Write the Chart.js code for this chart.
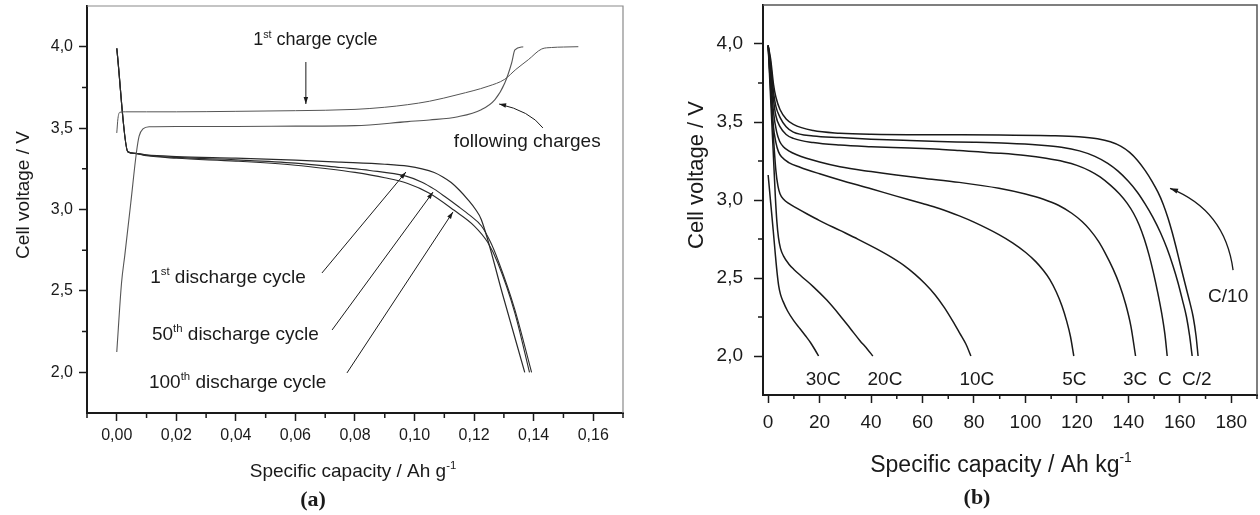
<!DOCTYPE html>
<html><head><meta charset="utf-8">
<script src="https://cdn.jsdelivr.net/npm/chart.js@4.4.1/dist/chart.umd.min.js"></script>
<style>
html,body{margin:0;padding:0;background:#fff;}
#wrap{position:relative;width:1260px;height:515px;overflow:hidden;background:#fff;}
canvas{position:absolute;top:0;}
#ca{left:0;} #cb{left:630px;}
</style></head><body>
<div id="wrap"><canvas id="ca" width="630" height="515"></canvas><canvas id="cb" width="630" height="515"></canvas></div>
<script>
// ================= Panel (a) data =================
const aXTicks = [0, 0.02, 0.04, 0.06, 0.08, 0.10, 0.12, 0.14, 0.16];
const aXTickLabels = ['0,00', '0,02', '0,04', '0,06', '0,08', '0,10', '0,12', '0,14', '0,16'];
const aXMinor = [-0.01, 0.01, 0.03, 0.05, 0.07, 0.09, 0.11, 0.13, 0.15, 0.17];
const aYTicks = [2.0, 2.5, 3.0, 3.5, 4.0];
const aYTickLabels = ['2,0', '2,5', '3,0', '3,5', '4,0'];
const aYMinor = [2.25, 2.75, 3.25, 3.75];

const charge1Cap = [0, 0.0004, 0.001, 0.003, 0.01, 0.02, 0.04, 0.06, 0.08, 0.09, 0.0977, 0.105, 0.1146, 0.1247, 0.1303, 0.134, 0.1382, 0.1427, 0.146, 0.150, 0.155];
const charge1V   = [3.47, 3.56, 3.597, 3.60, 3.60, 3.60, 3.603, 3.607, 3.615, 3.628, 3.644, 3.665, 3.706, 3.757, 3.80, 3.86, 3.92, 3.986, 3.995, 3.998, 4.0];

const chargeNCap = [0, 0.0016, 0.0027, 0.0047, 0.0066, 0.0075, 0.0088, 0.011, 0.02, 0.04, 0.06, 0.08, 0.0977, 0.105, 0.1146, 0.1224, 0.127, 0.1303, 0.1326, 0.1337, 0.1365];
const chargeNV   = [2.125, 2.55, 2.72, 3.04, 3.35, 3.45, 3.495, 3.508, 3.51, 3.51, 3.512, 3.515, 3.54, 3.55, 3.57, 3.613, 3.675, 3.777, 3.90, 3.98, 4.0];

const dis1Cap = [0, 0.0037, 0.006, 0.01, 0.02, 0.04, 0.06, 0.0752, 0.09, 0.0977, 0.1025, 0.1066, 0.1095, 0.1123, 0.115, 0.1179, 0.1205, 0.1224, 0.1297, 0.137];
const dis1V   = [3.99, 3.355, 3.345, 3.335, 3.325, 3.315, 3.303, 3.291, 3.278, 3.266, 3.25, 3.227, 3.20, 3.166, 3.12, 3.061, 3.0, 2.939, 2.47, 2.0];

const dis50Cap = [0, 0.0037, 0.006, 0.01, 0.02, 0.04, 0.06, 0.0752, 0.085, 0.0971, 0.1025, 0.1066, 0.1105, 0.1146, 0.1185, 0.1224, 0.1255, 0.128, 0.1336, 0.1393];
const dis50V   = [3.99, 3.355, 3.345, 3.333, 3.32, 3.305, 3.285, 3.258, 3.24, 3.205, 3.168, 3.125, 3.075, 3.02, 2.965, 2.90, 2.80, 2.69, 2.39, 2.0];

const dis100Cap = [0, 0.0037, 0.006, 0.01, 0.02, 0.04, 0.06, 0.07, 0.08, 0.09, 0.0977, 0.105, 0.1133, 0.12, 0.1245, 0.128, 0.1336, 0.1386];
const dis100V   = [3.99, 3.355, 3.345, 3.33, 3.315, 3.297, 3.272, 3.252, 3.228, 3.195, 3.16, 3.10, 2.995, 2.90, 2.80, 2.67, 2.37, 2.0];

// ================= Panel (b) data =================
const bXTicks = [0, 20, 40, 60, 80, 100, 120, 140, 160, 180];
const bXTickLabels = ['0', '20', '40', '60', '80', '100', '120', '140', '160', '180'];
const bXMinor = [10, 30, 50, 70, 90, 110, 130, 150, 170, 190];
const bYTicks = [2.0, 2.5, 3.0, 3.5, 4.0];
const bYTickLabels = ['2,0', '2,5', '3,0', '3,5', '4,0'];
const bYMinor = [2.25, 2.75, 3.25, 3.75];
const rateNames = ['30C', '20C', '10C', '5C', '3C', 'C', 'C/2', 'C/10'];

const r30Cap = [0, 1, 2, 2.8, 3.5, 4.1, 4.8, 5.8, 7.5, 10, 12.4, 14.5, 16.5, 18.2, 19.6];
const r30V   = [3.16, 2.98, 2.80, 2.65, 2.53, 2.45, 2.395, 2.35, 2.29, 2.225, 2.175, 2.13, 2.085, 2.04, 2.0];

const r20Cap = [0, 1, 2, 2.8, 3.4, 4, 4.8, 6, 8, 10, 13, 17.5, 22.7, 27.9, 32, 35.6, 38.5, 40.7];
const r20V   = [3.99, 3.64, 3.30, 3.02, 2.86, 2.76, 2.69, 2.64, 2.59, 2.555, 2.51, 2.445, 2.36, 2.26, 2.175, 2.10, 2.045, 2.0];

const r10Cap = [0, 1, 2, 3, 3.8, 4.6, 6, 8, 11.1, 15, 20, 27.9, 35, 42, 48, 53, 57, 61, 65, 68.5, 71.7, 74.5, 76.9, 78.8];
const r10V   = [3.99, 3.70, 3.42, 3.19, 3.09, 3.04, 3.005, 2.978, 2.948, 2.912, 2.868, 2.805, 2.748, 2.688, 2.632, 2.578, 2.525, 2.463, 2.39, 2.31, 2.225, 2.145, 2.075, 2.0];

const r5Cap = [0, 1, 2, 3, 4, 5.3, 8, 12.4, 20, 27.9, 40, 49.8, 60, 66.5, 74.3, 80, 89.7, 95, 100, 104, 107, 109.5, 112, 114.2, 116, 117.5, 118.8];
const r5V   = [3.99, 3.74, 3.48, 3.37, 3.31, 3.275, 3.24, 3.21, 3.168, 3.128, 3.072, 3.025, 2.978, 2.946, 2.898, 2.858, 2.778, 2.725, 2.665, 2.605, 2.548, 2.49, 2.41, 2.32, 2.225, 2.125, 2.0];

const r3Cap = [0, 1, 2.1, 3.4, 4.5, 5.9, 8, 11.1, 20, 27.9, 40, 49.8, 60, 74.3, 89.7, 100, 107, 113, 118, 122, 125, 128.4, 131, 134, 136.5, 139, 141, 142.8];
const r3V   = [3.99, 3.80, 3.56, 3.43, 3.375, 3.342, 3.315, 3.29, 3.243, 3.213, 3.182, 3.16, 3.14, 3.113, 3.075, 3.038, 3.005, 2.965, 2.915, 2.862, 2.81, 2.735, 2.66, 2.56, 2.46, 2.33, 2.19, 2.0];

const r1Cap = [0, 1, 2.1, 3, 4.6, 7, 9.8, 17.5, 27.9, 40, 55, 66.5, 74.3, 89.7, 100, 108, 115, 120, 125, 129, 133, 136.5, 139.5, 142, 144.2, 146.2, 148, 149.8, 151.5, 153, 154.2, 155.1];
const r1V   = [3.99, 3.84, 3.64, 3.54, 3.47, 3.42, 3.395, 3.368, 3.352, 3.342, 3.333, 3.325, 3.317, 3.30, 3.285, 3.267, 3.245, 3.222, 3.187, 3.148, 3.095, 3.04, 2.98, 2.915, 2.84, 2.75, 2.65, 2.53, 2.40, 2.27, 2.14, 2.0];

const rHalfCap = [0, 1, 2.1, 3, 4.6, 7, 9.8, 17.5, 27.9, 40, 55, 66.5, 80, 93, 105, 114, 121, 127, 132, 136, 140, 143.5, 146.5, 149.5, 152.5, 155, 157.3, 159.3, 161, 162.6, 163.8, 164.8];
const rHalfV   = [3.99, 3.87, 3.69, 3.60, 3.53, 3.47, 3.435, 3.41, 3.40, 3.39, 3.381, 3.375, 3.37, 3.363, 3.352, 3.338, 3.315, 3.28, 3.235, 3.185, 3.12, 3.05, 2.975, 2.89, 2.79, 2.69, 2.58, 2.47, 2.36, 2.25, 2.13, 2.0];

const rTenthCap = [0, 1, 2.1, 3, 4.6, 7, 9.8, 17.5, 27.9, 40, 66.5, 90, 110, 120.7, 128, 133, 137, 140.5, 143.5, 146.5, 149.2, 151.5, 153.5, 155.4, 157, 158.5, 160.2, 162, 163.8, 165.2, 166.3, 167.1];
const rTenthV   = [3.99, 3.90, 3.74, 3.66, 3.58, 3.52, 3.485, 3.445, 3.428, 3.421, 3.418, 3.417, 3.412, 3.405, 3.392, 3.373, 3.345, 3.305, 3.255, 3.19, 3.12, 3.05, 2.975, 2.885, 2.795, 2.70, 2.585, 2.466, 2.35, 2.25, 2.13, 2.0];

// ================= helpers =================
const SANS = '"Liberation Sans", Arial, Helvetica, sans-serif';
const SERIF = '"Liberation Serif", "Times New Roman", serif';
const INK = '#1a1a1a';

function fmt(values, labels) {
  return v => { const i = values.findIndex(t => Math.abs(t - v) < 1e-9); return i >= 0 ? labels[i] : ''; };
}
function ds(xs, ys, color, width) {
  return { data: xs.map((x, i) => ({ x: x, y: ys[i] })), showLine: true, borderColor: color,
           borderWidth: width, pointRadius: 0, cubicInterpolationMode: 'monotone', fill: false };
}
function drawParts(ctx, parts, x, y, size, align) {
  const sup = size * 0.6;
  const ws = parts.map(p => { ctx.font = (p[1] ? sup : size) + 'px ' + SANS; return ctx.measureText(p[0]).width; });
  const total = ws.reduce((a, b) => a + b, 0);
  let cx = align === 'center' ? x - total / 2 : x;
  ctx.textAlign = 'left'; ctx.textBaseline = 'alphabetic';
  parts.forEach((p, i) => {
    ctx.font = (p[1] ? sup : size) + 'px ' + SANS;
    ctx.fillText(p[0], cx, p[1] ? y - size * 0.42 : y);
    cx += ws[i];
  });
}
function arrow(ctx, x0, y0, x1, y1, cx, cy, head) {
  ctx.beginPath(); ctx.moveTo(x0, y0);
  if (cx !== undefined) ctx.quadraticCurveTo(cx, cy, x1, y1); else ctx.lineTo(x1, y1);
  ctx.stroke();
  const fx = cx !== undefined ? cx : x0, fy = cx !== undefined ? cy : y0;
  const a = Math.atan2(y1 - fy, x1 - fx), w = head * 0.32;
  ctx.beginPath(); ctx.moveTo(x1, y1);
  ctx.lineTo(x1 - head * Math.cos(a) + w * Math.sin(a), y1 - head * Math.sin(a) - w * Math.cos(a));
  ctx.lineTo(x1 - head * Math.cos(a) - w * Math.sin(a), y1 - head * Math.sin(a) + w * Math.cos(a));
  ctx.closePath(); ctx.fill();
}
function decor(spec) {
  return { id: 'decor', afterDraw(chart) {
    const ctx = chart.ctx, ca = chart.chartArea, xs = chart.scales.x, ys = chart.scales.y;
    const X = v => xs.getPixelForValue(v), Y = v => ys.getPixelForValue(v);
    ctx.save();
    ctx.strokeStyle = spec.frameColor; ctx.lineWidth = spec.frameWidth;
    ctx.beginPath(); ctx.moveTo(ca.left, ca.top); ctx.lineTo(ca.right, ca.top); ctx.lineTo(ca.right, ca.bottom); ctx.stroke();
    ctx.strokeStyle = INK; ctx.lineWidth = 1.5; ctx.beginPath();
    spec.minorX.forEach(v => { const p = X(v); ctx.moveTo(p, ca.bottom); ctx.lineTo(p, ca.bottom + spec.minorLenX); });
    spec.minorY.forEach(v => { const p = Y(v); ctx.moveTo(ca.left - spec.minorLenY, p); ctx.lineTo(ca.left, p); });
    ctx.stroke();
    ctx.fillStyle = INK; ctx.strokeStyle = INK; ctx.lineWidth = spec.arrowWidth;
    spec.labels.forEach(l => drawParts(ctx, l.parts, X(l.x), Y(l.y), l.size, l.align));
    spec.arrows.forEach(a => arrow(ctx, X(a.x0), Y(a.y0), X(a.x1), Y(a.y1),
      a.cx === undefined ? undefined : X(a.cx), a.cy === undefined ? undefined : Y(a.cy), a.head));
    const yt = spec.yTitle;
    ctx.save(); ctx.translate(yt.x, yt.y); ctx.rotate(-Math.PI / 2);
    ctx.font = yt.size + 'px ' + SANS; ctx.textAlign = 'center'; ctx.textBaseline = 'alphabetic';
    ctx.fillText(yt.text, 0, 0); ctx.restore();
    const xt = spec.xTitle;
    drawParts(ctx, xt.parts, xt.x, xt.y, xt.size, 'center');
    ctx.font = 'bold ' + spec.caption.size + 'px ' + SERIF; ctx.textAlign = 'center'; ctx.textBaseline = 'alphabetic';
    ctx.fillText(spec.caption.text, spec.caption.x, spec.caption.y);
    ctx.restore();
  }};
}
function scaleOpts(o) {
  return {
    type: 'linear', min: o.min, max: o.max,
    afterBuildTicks: s => { s.ticks = o.ticks.map(v => ({ value: v })); },
    afterFit: s => {
      if (o.axis === 'x') { s.height = o.size; s.paddingLeft = 0; s.paddingRight = 0; }
      else { s.width = o.size; s.paddingTop = 0; s.paddingBottom = 0; }
    },
    ticks: { callback: fmt(o.ticks, o.labels), font: { size: o.font, family: SANS }, color: INK,
             padding: o.pad, maxRotation: 0, autoSkip: false },
    grid: { display: true, drawOnChartArea: false, drawTicks: true, tickLength: o.tick, tickWidth: 1.5, tickColor: INK },
    border: { display: true, color: INK, width: 2 }
  };
}
const baseOpts = (pad, xs, ys) => ({
  responsive: false, animation: false, events: [],
  layout: { padding: pad },
  plugins: { legend: { display: false }, tooltip: { enabled: false }, title: { display: false } },
  scales: { x: xs, y: ys }
});

// ================= Chart (a) =================
const lineA = '#2a2a2a', lineA2 = '#555';
new Chart(document.getElementById('ca'), {
  type: 'scatter',
  data: { datasets: [
    ds(charge1Cap, charge1V, lineA2, 1),
    ds(chargeNCap, chargeNV, lineA2, 1.1),
    ds(dis100Cap, dis100V, lineA, 1.1),
    ds(dis50Cap, dis50V, lineA, 1.1),
    ds(dis1Cap, dis1V, lineA, 1.2)
  ]},
  options: baseOpts({ left: 0, top: 6, right: 7, bottom: 0 },
    scaleOpts({ axis: 'x', min: -0.01, max: 0.17, ticks: aXTicks, labels: aXTickLabels, size: 102, font: 16, pad: 5, tick: 8 }),
    scaleOpts({ axis: 'y', min: 1.75, max: 4.25, ticks: aYTicks, labels: aYTickLabels, size: 87, font: 16, pad: 6, tick: 8 })),
  plugins: [decor({
    frameColor: '#8a8a8a', frameWidth: 1.2, arrowWidth: 1,
    minorX: aXMinor, minorY: aYMinor, minorLenX: 5, minorLenY: 5,
    labels: [
      { parts: [['1', 0], ['st', 1], [' charge cycle', 0]], x: 0.0458, y: 4.010, size: 18, align: 'left' },
      { parts: [['following charges', 0]], x: 0.1132, y: 3.386, size: 19, align: 'left' },
      { parts: [['1', 0], ['st', 1], [' discharge cycle', 0]], x: 0.0112, y: 2.550, size: 19, align: 'left' },
      { parts: [['50', 0], ['th', 1], [' discharge cycle', 0]], x: 0.0118, y: 2.198, size: 19, align: 'left' },
      { parts: [['100', 0], ['th', 1], [' discharge cycle', 0]], x: 0.0108, y: 1.902, size: 19, align: 'left' }
    ],
    arrows: [
      { x0: 0.0635, y0: 3.906, x1: 0.0635, y1: 3.648, head: 7 },
      { x0: 0.1431, y0: 3.501, cx: 0.1388, cy: 3.605, x1: 0.1284, y1: 3.648, head: 7 },
      { x0: 0.0689, y0: 2.610, x1: 0.0971, y1: 3.230, head: 7 },
      { x0: 0.0723, y0: 2.260, x1: 0.1062, y1: 3.107, head: 7 },
      { x0: 0.0773, y0: 1.996, x1: 0.1129, y1: 2.985, head: 7 }
    ],
    yTitle: { text: 'Cell voltage / V', x: 29, y: 195, size: 19 },
    xTitle: { parts: [['Specific capacity / Ah g', 0], ['-1', 1]], x: 353, y: 477, size: 19 },
    caption: { text: '(a)', x: 313, y: 506, size: 22 }
  })]
});

// ================= Chart (b) =================
const lineB = '#1a1a1a';
new Chart(document.getElementById('cb'), {
  type: 'scatter',
  data: { datasets: [
    ds(r30Cap, r30V, lineB, 1.5),
    ds(r20Cap, r20V, lineB, 1.5),
    ds(r10Cap, r10V, lineB, 1.5),
    ds(r5Cap, r5V, lineB, 1.5),
    ds(r3Cap, r3V, lineB, 1.5),
    ds(r1Cap, r1V, lineB, 1.5),
    ds(rHalfCap, rHalfV, lineB, 1.5),
    ds(rTenthCap, rTenthV, lineB, 1.5)
  ]},
  options: baseOpts({ left: 0, top: 5, right: 3, bottom: 0 },
    scaleOpts({ axis: 'x', min: -2, max: 190, ticks: bXTicks, labels: bXTickLabels, size: 120, font: 19, pad: 8, tick: 8 }),
    scaleOpts({ axis: 'y', min: 1.75, max: 4.25, ticks: bYTicks, labels: bYTickLabels, size: 133, font: 19, pad: 11, tick: 9 })),
  plugins: [decor({
    frameColor: '#555', frameWidth: 1.5, arrowWidth: 1.3,
    minorX: bXMinor, minorY: bYMinor, minorLenX: 4, minorLenY: 5,
    labels: [
      { parts: [[rateNames[0], 0]], x: 21.4, y: 1.814, size: 19, align: 'center' },
      { parts: [[rateNames[1], 0]], x: 45.4, y: 1.814, size: 19, align: 'center' },
      { parts: [[rateNames[2], 0]], x: 81.1, y: 1.814, size: 19, align: 'center' },
      { parts: [[rateNames[3], 0]], x: 119.0, y: 1.814, size: 19, align: 'center' },
      { parts: [[rateNames[4], 0]], x: 142.6, y: 1.814, size: 19, align: 'center' },
      { parts: [[rateNames[5], 0]], x: 154.2, y: 1.814, size: 19, align: 'center' },
      { parts: [[rateNames[6], 0]], x: 166.6, y: 1.814, size: 19, align: 'center' },
      { parts: [[rateNames[7], 0]], x: 178.8, y: 2.348, size: 19, align: 'center' }
    ],
    arrows: [
      { x0: 180.7, y0: 2.551, cx: 177.6, cy: 2.936, x1: 156.2, y1: 3.075, head: 8 }
    ],
    yTitle: { text: 'Cell voltage / V', x: 73, y: 175, size: 22 },
    xTitle: { parts: [['Specific capacity / Ah kg', 0], ['-1', 1]], x: 371, y: 472, size: 23 },
    caption: { text: '(b)', x: 347, y: 504, size: 22 }
  })]
});
</script>
</body></html>
